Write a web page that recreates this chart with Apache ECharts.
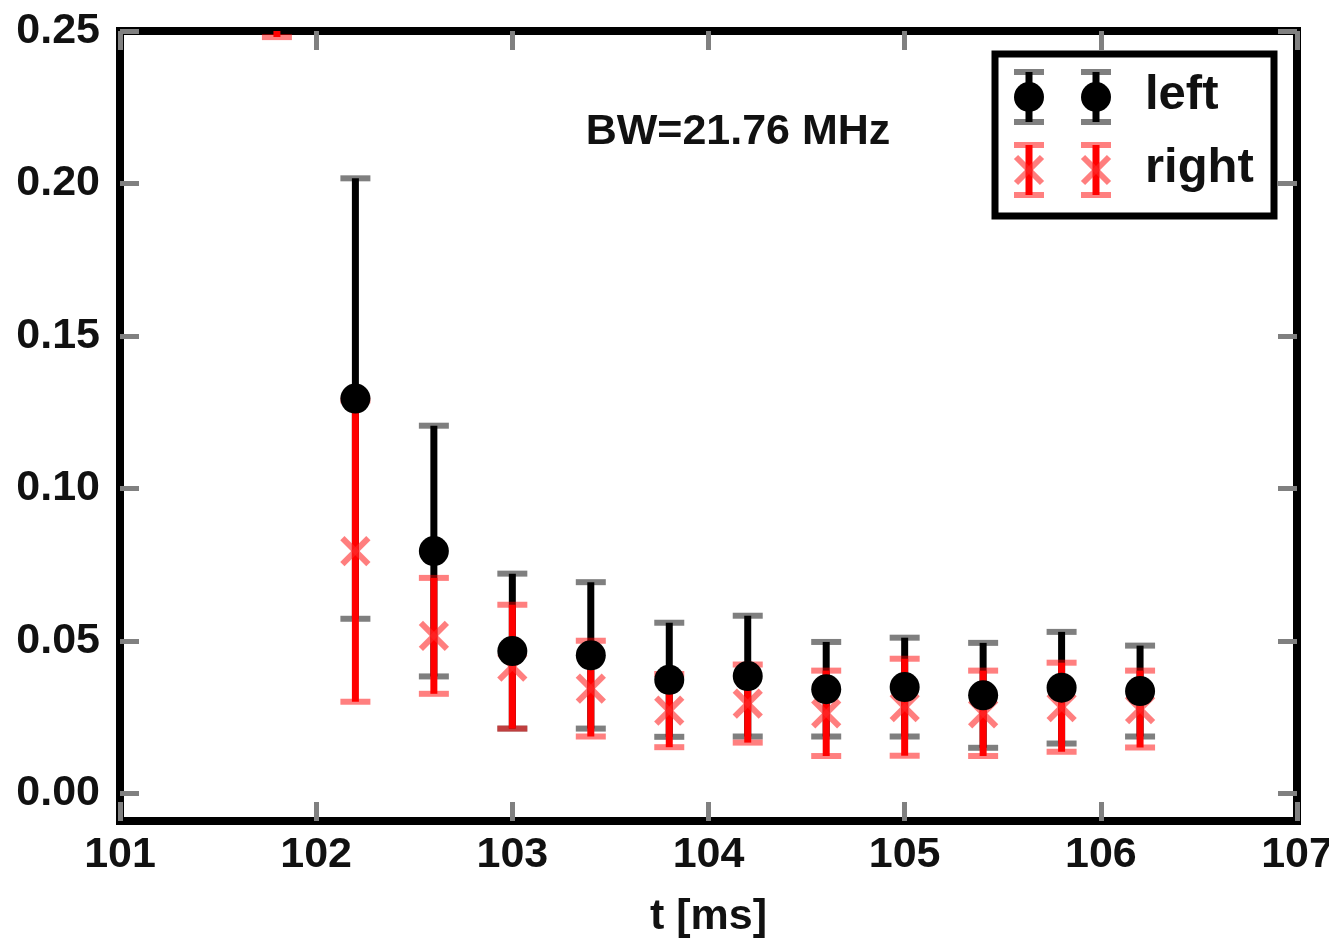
<!DOCTYPE html>
<html>
<head>
<meta charset="utf-8">
<script src="https://cdn.jsdelivr.net/npm/echarts@6/dist/echarts.min.js"></script>
<style>
html,body{margin:0;padding:0;background:#fff;}
#chart{width:1329px;height:940px;}
</style>
</head>
<body>
<div id="chart"></div>
<script>
// ---- data ----
const leftT   = [102.2, 102.6, 103.0, 103.4, 103.8, 104.2, 104.6, 105.0, 105.4, 105.8, 106.2];
const leftY   = [0.1295, 0.0795, 0.0467, 0.0453, 0.0373, 0.0385, 0.0342, 0.0349, 0.0322, 0.0347, 0.0336];
const leftErr = [0.0722, 0.0411, 0.0254, 0.0240, 0.0187, 0.0198, 0.0155, 0.0162, 0.0172, 0.0183, 0.0149];

const rightT   = [101.8, 102.2, 102.6, 103.0, 103.4, 103.8, 104.2, 104.6, 105.0, 105.4, 105.8, 106.2];
const rightY   = [0.300, 0.0795, 0.0517, 0.0416, 0.0344, 0.0272, 0.0295, 0.0263, 0.0283, 0.0263, 0.0283, 0.0277];
const rightErr = [0.052, 0.0494, 0.0190, 0.0203, 0.0157, 0.0120, 0.0128, 0.0140, 0.0159, 0.0140, 0.0146, 0.0126];

const xTicks = [101, 102, 103, 104, 105, 106, 107];
const yTicks = [0.00, 0.05, 0.10, 0.15, 0.20, 0.25];
const seriesNames = ['left', 'right'];
const annotation = 'BW=21.76 MHz';
const xAxisName = 't [ms]';

// ---- styles ----
const FONT = "'Liberation Sans', Arial, sans-serif";
const TXT = '#111';
const BAR_W = 7, CAP_HALF = 15, CAP_W = 6;

const leftData = leftT.map((t, i) => [t, leftY[i], leftErr[i]]);
const rightData = rightT.map((t, i) => [t, rightY[i], rightErr[i]]);

function errRender(barColor, capColor) {
  return function (params, api) {
    const x = api.value(0), y = api.value(1), e = api.value(2);
    const top = api.coord([x, y + e]);
    const bot = api.coord([x, y - e]);
    return {
      type: 'group',
      children: [
        {type: 'line', shape: {x1: top[0], y1: top[1], x2: bot[0], y2: bot[1]},
         style: {stroke: barColor, lineWidth: BAR_W}},
        {type: 'line', shape: {x1: top[0] - CAP_HALF, y1: top[1], x2: top[0] + CAP_HALF, y2: top[1]},
         style: {stroke: capColor, lineWidth: CAP_W}},
        {type: 'line', shape: {x1: bot[0] - CAP_HALF, y1: bot[1], x2: bot[0] + CAP_HALF, y2: bot[1]},
         style: {stroke: capColor, lineWidth: CAP_W}}
      ]
    };
  };
}
function circleRender(params, api) {
  const p = api.coord([api.value(0), api.value(1)]);
  return {type: 'circle', shape: {cx: p[0], cy: p[1], r: 15}, style: {fill: '#000'}};
}
function xRender(params, api) {
  const p = api.coord([api.value(0), api.value(1)]);
  const h = 13;
  return {type: 'group', children: [
    {type: 'line', shape: {x1: p[0] - h, y1: p[1] - h, x2: p[0] + h, y2: p[1] + h},
     style: {stroke: 'rgba(255,40,40,0.6)', lineWidth: 6}},
    {type: 'line', shape: {x1: p[0] - h, y1: p[1] + h, x2: p[0] + h, y2: p[1] - h},
     style: {stroke: 'rgba(255,40,40,0.6)', lineWidth: 6}}
  ]};
}

// legend icons (graphic, not data)
function legendIcon(cx, cy, kind) {
  const c = [];
  const half = 25;
  const bar = kind === 'left' ? '#000' : '#ff0000';
  const cap = kind === 'left' ? 'rgba(0,0,0,0.5)' : 'rgba(255,0,0,0.5)';
  c.push({type: 'line', shape: {x1: cx, y1: cy - half, x2: cx, y2: cy + half}, style: {stroke: bar, lineWidth: BAR_W}});
  c.push({type: 'line', shape: {x1: cx - CAP_HALF, y1: cy - half, x2: cx + CAP_HALF, y2: cy - half}, style: {stroke: cap, lineWidth: CAP_W}});
  c.push({type: 'line', shape: {x1: cx - CAP_HALF, y1: cy + half, x2: cx + CAP_HALF, y2: cy + half}, style: {stroke: cap, lineWidth: CAP_W}});
  if (kind === 'left') {
    c.push({type: 'circle', shape: {cx: cx, cy: cy, r: 15}, style: {fill: '#000'}});
  } else {
    const h = 13;
    c.push({type: 'line', shape: {x1: cx - h, y1: cy - h, x2: cx + h, y2: cy + h}, style: {stroke: 'rgba(255,40,40,0.6)', lineWidth: 6}});
    c.push({type: 'line', shape: {x1: cx - h, y1: cy + h, x2: cx + h, y2: cy - h}, style: {stroke: 'rgba(255,40,40,0.6)', lineWidth: 6}});
  }
  return c;
}

const legendChildren = [
  {type: 'rect', shape: {x: 995, y: 54, width: 279, height: 162}, style: {fill: '#fff', stroke: '#000', lineWidth: 7}}
].concat(
  legendIcon(1029, 97, 'left'), legendIcon(1096, 97, 'left'),
  legendIcon(1029, 170, 'right'), legendIcon(1096, 170, 'right'),
  [
    {type: 'text', x: 1145, y: 95, style: {text: seriesNames[0], fontSize: 49, fontWeight: 'bold', fontFamily: FONT, fill: TXT, align: 'left', verticalAlign: 'middle'}},
    {type: 'text', x: 1145, y: 168, style: {text: seriesNames[1], fontSize: 49, fontWeight: 'bold', fontFamily: FONT, fill: TXT, align: 'left', verticalAlign: 'middle'}}
  ]
);

const tickStyle = {color: '#808080', width: 5};
const labelStyle = {fontSize: 43, fontWeight: 'bold', fontFamily: FONT, color: TXT};

const option = {
  animation: false,
  backgroundColor: '#fff',
  grid: {left: 120, right: 32, top: 31, bottom: 119, containLabel: false, outerBoundsMode: 'none',
         show: true, borderColor: '#000', borderWidth: 8, backgroundColor: '#fff'},
  xAxis: [
    {type: 'value', position: 'bottom', min: 101, max: 107, interval: 1,
     axisLine: {show: false, onZero: false}, splitLine: {show: false},
     axisTick: {inside: true, length: 19, lineStyle: tickStyle},
     axisLabel: Object.assign({margin: 13, formatter: v => String(Math.round(v))}, labelStyle),
     name: xAxisName, nameLocation: 'middle', nameGap: 75,
     nameTextStyle: {fontSize: 43, fontWeight: 'bold', fontFamily: FONT, color: TXT}},
    {type: 'value', position: 'top', min: 101, max: 107, interval: 1,
     axisLine: {show: false, onZero: false}, splitLine: {show: false}, axisLabel: {show: false},
     axisTick: {inside: true, length: 19, lineStyle: tickStyle}}
  ],
  yAxis: [
    {type: 'value', position: 'left', min: -0.009, max: 0.25,
     axisLine: {show: false, onZero: false}, splitLine: {show: false},
     axisTick: {inside: true, length: 19, lineStyle: tickStyle, customValues: yTicks},
     axisLabel: Object.assign({margin: 20, customValues: yTicks, formatter: v => v.toFixed(2)}, labelStyle)},
    {type: 'value', position: 'right', min: -0.009, max: 0.25,
     axisLine: {show: false, onZero: false}, splitLine: {show: false}, axisLabel: {show: false},
     axisTick: {inside: true, length: 19, lineStyle: tickStyle, customValues: yTicks}}
  ],
  series: [
    {name: seriesNames[0] + ' err', type: 'custom', z: 2, clip: true, data: leftData,
     encode: {x: 0, y: 1}, renderItem: errRender('#000', 'rgba(0,0,0,0.5)')},
    {name: seriesNames[1] + ' err', type: 'custom', z: 3, clip: true, data: rightData,
     encode: {x: 0, y: 1}, renderItem: errRender('#ff0000', 'rgba(255,0,0,0.5)')},
    {name: seriesNames[1], type: 'custom', z: 4, clip: true, data: rightData,
     encode: {x: 0, y: 1}, renderItem: xRender},
    {name: seriesNames[0], type: 'custom', z: 5, clip: true, data: leftData,
     encode: {x: 0, y: 1}, renderItem: circleRender}
  ],
  graphic: [
    {type: 'text', x: 738, y: 132, z: 20,
     style: {text: annotation, fontSize: 43, fontWeight: 'bold', fontFamily: FONT, fill: TXT, align: 'center', verticalAlign: 'middle'}},
    {type: 'group', z: 20, children: legendChildren}
  ]
};

const chart = echarts.init(document.getElementById('chart'), null, {renderer: 'canvas'});
chart.setOption(option);
</script>
</body>
</html>
